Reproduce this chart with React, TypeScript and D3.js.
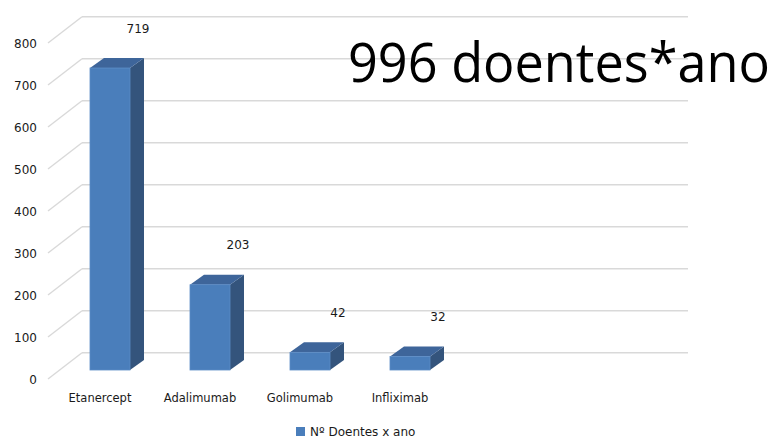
import React, { useEffect, useRef, useState } from "react";
import * as d3 from "d3";

const categories = ["Etanercept", "Adalimumab", "Golimumab", "Infliximab"];
const values = [719, 203, 42, 32];
const yTicks = [0, 100, 200, 300, 400, 500, 600, 700, 800];
const seriesName = "Nº Doentes x ano";
const annotation = "996 doentes*ano";

const W = 777;
const H = 438;

export default function App() {
  const titleRef = useRef<SVGTextElement | null>(null);
  const [sx, setSx] = useState(0.9);
  useEffect(() => {
    if (titleRef.current) {
      const L = titleRef.current.getComputedTextLength();
      if (L > 0) setSx(422 / L);
    }
  }, []);

  const y = d3.scaleLinear().domain([0, 800]).range([370, 34]);
  const x = d3
    .scaleBand<string>()
    .domain(categories)
    .range([60, 460])
    .paddingInner(0.6)
    .paddingOuter(0.3);
  const bw = x.bandwidth();
  const depthX = 14;
  const depthY = -10;
  const backDy = -17.3;
  const wallX = 82;
  const wallRight = 688;
  const labelPlaneX = 48;
  const labelDy = 9;

  const font = "'DejaVu Sans', sans-serif";

  return (
    <svg
      width={W}
      height={H}
      style={{ position: "absolute", left: 0, top: 0, background: "#fff" }}
      viewBox={`0 0 ${W} ${H}`}
    >
      <rect x={0} y={0} width={W} height={H} fill="#fff" />
      <g stroke="#d9d9d9" strokeWidth={1.4} fill="none">
        {yTicks.map((t) => (
          <g key={t}>
            <line x1={wallX} x2={wallRight} y1={y(t) + backDy} y2={y(t) + backDy} />
            <line
              x1={labelPlaneX}
              y1={y(t) + labelDy}
              x2={wallX}
              y2={y(t) + backDy}
            />
          </g>
        ))}
      </g>
      <g fontFamily={font} fontSize={12} fill="#1a1a1a" textAnchor="end">
        {yTicks.map((t) => (
          <text key={t} x={37} y={y(t) + labelDy + 4.5}>
            {t}
          </text>
        ))}
      </g>
      {categories.map((c, i) => {
        const x0 = x(c)!;
        const x1 = x0 + bw;
        const yt = y(values[i]);
        const yb = y(0);
        const top = `M${x0},${yt} L${x1},${yt} L${x1 + depthX},${yt + depthY} L${x0 + depthX},${yt + depthY} Z`;
        const side = `M${x1},${yt} L${x1 + depthX},${yt + depthY} L${x1 + depthX},${yb + depthY} L${x1},${yb} Z`;
        return (
          <g key={c}>
            <path d={side} fill="#34547c" />
            <path d={top} fill="#3e659a" />
            <rect x={x0} y={yt} width={bw} height={yb - yt} fill="#4a7ebb" />
            <rect x={x0} y={yt} width={bw} height={yb - yt} fill="none" stroke="#5b8cc6" strokeWidth={0.8} />
            <text
              x={x0 + bw / 2 + 28}
              y={yt - 40 + 4.5}
              fontFamily={font}
              fontSize={12}
              fill="#1a1a1a"
              textAnchor="middle"
            >
              {values[i]}
            </text>
            <text
              x={x0 + bw / 2 - 10}
              y={402}
              fontFamily={font}
              fontSize={11.5}
              fill="#1a1a1a"
              textAnchor="middle"
            >
              {c}
            </text>
          </g>
        );
      })}
      <text
        ref={titleRef}
        transform={`translate(348,82) scale(${sx},1)`}
        x={0}
        y={0}
        fontFamily="'Open Sans', sans-serif"
        fontSize={54}
        fill="#000"
      >
        {annotation}
      </text>
      <rect x={296} y={427} width={9} height={9} fill="#4a7ebb" />
      <text x={310} y={435.5} fontFamily={font} fontSize={12} fill="#1a1a1a">
        {seriesName}
      </text>
    </svg>
  );
}
